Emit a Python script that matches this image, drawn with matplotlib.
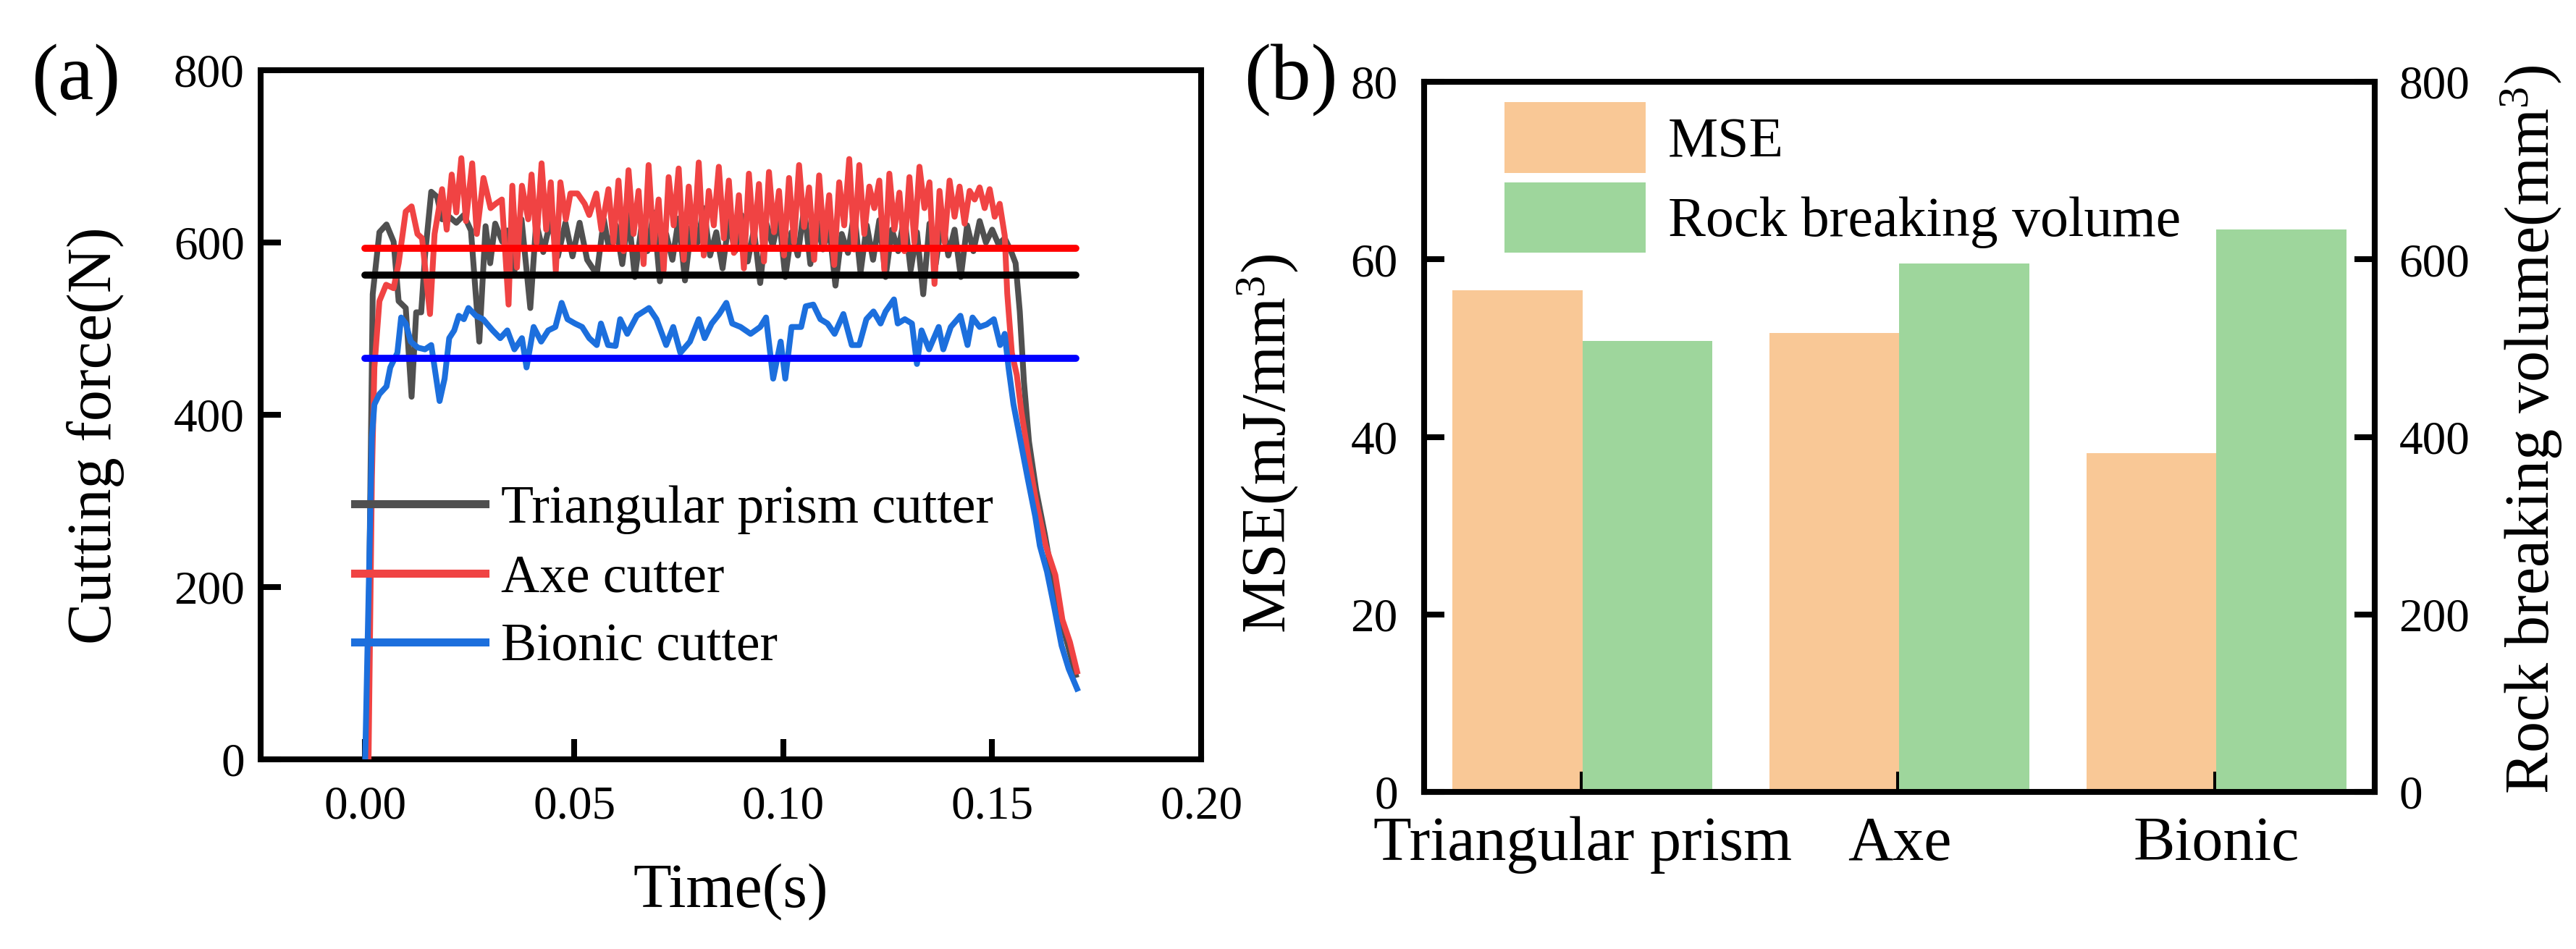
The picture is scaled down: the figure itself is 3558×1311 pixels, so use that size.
import matplotlib
matplotlib.use('Agg')
import matplotlib.pyplot as plt

plt.rcParams['font.family'] = ['Liberation Serif', 'DejaVu Serif']
plt.rcParams['mathtext.fontset'] = 'custom'
plt.rcParams['mathtext.rm'] = 'Liberation Serif'
plt.rcParams['mathtext.default'] = 'regular'

# ---- (a) cutting force curves ----
tri_t = [0.0005, 0.0012, 0.0018, 0.0034, 0.0051, 0.0068, 0.0080, 0.0097, 0.0111, 0.0122,
         0.0134, 0.0143, 0.0158, 0.0172, 0.0184, 0.0201, 0.0218, 0.0236, 0.0253, 0.0273,
         0.0288, 0.0299, 0.0311, 0.0328, 0.0340, 0.0357, 0.0374, 0.0395, 0.0409, 0.0426,
         0.0444, 0.0461, 0.0479, 0.0496, 0.0513, 0.0531, 0.0554, 0.0571, 0.0583,
         0.0600, 0.0615, 0.0630, 0.0645, 0.0660, 0.0675, 0.0690, 0.0705, 0.0720, 0.0735,
         0.0750, 0.0765, 0.0780, 0.0795, 0.0810, 0.0825, 0.0840, 0.0855, 0.0870, 0.0885,
         0.0900, 0.0915, 0.0930, 0.0945, 0.0960, 0.0975, 0.0990, 0.1005, 0.1020, 0.1035,
         0.1050, 0.1065, 0.1080, 0.1095, 0.1110, 0.1125, 0.1140, 0.1155, 0.1170, 0.1185,
         0.1200, 0.1215, 0.1230, 0.1245, 0.1260, 0.1275, 0.1290, 0.1305, 0.1320, 0.1335,
         0.1350, 0.1365, 0.1380, 0.1395, 0.1410, 0.1425, 0.1440, 0.1455, 0.1470, 0.1485,
         0.1500, 0.1515, 0.1530, 0.1545, 0.1556, 0.1566, 0.1576, 0.1588, 0.1605, 0.1626,
         0.1649, 0.1672, 0.1700]
tri_f = [0, 300, 540, 612, 621, 601, 532, 524, 421, 519,
         519, 584, 659, 653, 627, 630, 623, 632, 614, 485,
         619, 576, 622, 601, 614, 567, 627, 524, 623, 589,
         627, 584, 623, 584, 623, 580, 563, 627, 593,
         620, 575, 632, 560, 615, 590, 635, 555, 610, 580,
         628, 556, 618, 600, 640, 585, 612, 570, 625, 590,
         632, 578, 615, 553, 622, 596, 630, 560, 612, 585,
         640, 575, 625, 592, 618, 550, 610, 588, 635, 565,
         620, 580, 626, 560, 615, 590, 630, 568, 612, 540,
         622, 575, 628, 585, 615, 560, 620, 590, 625, 600,
         615, 598, 605, 590, 576, 520, 438, 369, 313, 261,
         197, 149, 98]

axe_t = [0.0008, 0.0016, 0.0022, 0.0034, 0.0050, 0.0068, 0.0080, 0.0097, 0.0111, 0.0125,
         0.0136, 0.0155, 0.0166, 0.0184, 0.0195, 0.0207, 0.0218, 0.0230, 0.0241, 0.0256,
         0.0267, 0.0283, 0.0300, 0.0312, 0.0327, 0.0343, 0.0352, 0.0363, 0.0375, 0.0390,
         0.0398, 0.0410, 0.0422, 0.0433, 0.0444, 0.0456, 0.0467, 0.0480, 0.0491, 0.0508,
         0.0525, 0.0536, 0.0553, 0.0565, 0.0582,
         0.0594, 0.0606, 0.0618, 0.0630, 0.0642, 0.0654, 0.0666, 0.0678, 0.0690, 0.0702,
         0.0714, 0.0726, 0.0738, 0.0750, 0.0762, 0.0774, 0.0786, 0.0798, 0.0810, 0.0822,
         0.0834, 0.0846, 0.0858, 0.0870, 0.0882, 0.0894, 0.0906, 0.0918, 0.0930, 0.0942,
         0.0954, 0.0966, 0.0978, 0.0990, 0.1002, 0.1014, 0.1026, 0.1038, 0.1050, 0.1062,
         0.1074, 0.1086, 0.1098, 0.1110, 0.1122, 0.1134, 0.1146, 0.1158, 0.1170, 0.1182,
         0.1194, 0.1206, 0.1218, 0.1230, 0.1242, 0.1254, 0.1266, 0.1278, 0.1290, 0.1302,
         0.1314, 0.1326, 0.1338, 0.1350, 0.1362, 0.1374, 0.1386, 0.1398, 0.1410, 0.1422,
         0.1434, 0.1446, 0.1458, 0.1470, 0.1482, 0.1494, 0.1506, 0.1518,
         0.1530, 0.1536, 0.1547, 0.1559, 0.1570, 0.1588, 0.1605, 0.1628, 0.1651, 0.1668,
         0.1686, 0.1703]
axe_f = [0, 326, 455, 532, 551, 547, 576, 636, 642, 610,
         605, 517, 610, 662, 615, 679, 635, 698, 625, 692,
         610, 675, 640, 645, 650, 528, 666, 571, 666, 627,
         679, 600, 692, 615, 670, 567, 670, 627, 657, 657,
         645, 632, 657, 615, 662,
         600, 672, 590, 684, 610, 660, 575, 690, 595, 650,
         568, 676, 620, 686, 580, 665, 598, 693, 585, 660,
         620, 688, 605, 672, 588, 655, 570, 680, 600, 668,
         578, 682, 612, 660, 585, 675, 600, 690, 618, 664,
         580, 678, 598, 655, 574, 670, 620, 697, 592, 690,
         610, 665, 640, 672, 568, 680, 615, 658, 590, 676,
         600, 688, 640, 670, 552, 660, 600, 672, 630, 665,
         622, 660, 650, 664, 640, 662, 630, 645,
         608, 541, 472, 446, 403, 347, 300, 248, 214, 162,
         136, 102]

bio_t = [0.0000, 0.0016, 0.0022, 0.0034, 0.0051, 0.0060, 0.0068, 0.0077, 0.0086, 0.0097,
         0.0109, 0.0126, 0.0143, 0.0158, 0.0178, 0.0190, 0.0201, 0.0213, 0.0224, 0.0236,
         0.0247, 0.0265, 0.0282, 0.0305, 0.0323, 0.0340, 0.0357, 0.0375, 0.0386, 0.0403,
         0.0421, 0.0438, 0.0455, 0.0470, 0.0484, 0.0502, 0.0519, 0.0536, 0.0554, 0.0564,
         0.0581, 0.0599, 0.0610, 0.0627, 0.0650, 0.0679, 0.0697, 0.0720, 0.0737, 0.0754,
         0.0777, 0.0798, 0.0812, 0.0829, 0.0847, 0.0864, 0.0878, 0.0898, 0.0922, 0.0945,
         0.0959, 0.0976, 0.0994, 0.1005, 0.1020, 0.1043, 0.1054, 0.1072, 0.1089, 0.1106,
         0.1123, 0.1144, 0.1164, 0.1182, 0.1199, 0.1216, 0.1233, 0.1245, 0.1265, 0.1274,
         0.1291, 0.1308, 0.1320, 0.1331, 0.1349, 0.1372, 0.1383, 0.1401, 0.1424, 0.1441,
         0.1453, 0.1470, 0.1487, 0.1504, 0.1519, 0.1530, 0.1539, 0.1551, 0.1568, 0.1585,
         0.1603, 0.1614, 0.1631, 0.1649, 0.1666, 0.1683, 0.1703]
bio_f = [0, 374, 412, 424, 433, 455, 463, 472, 513, 506,
         485, 478, 476, 481, 416, 442, 489, 498, 515, 511,
         524, 515, 511, 498, 489, 498, 476, 489, 455, 502,
         485, 498, 502, 530, 511, 506, 502, 489, 481, 506,
         481, 480, 511, 494, 515, 524, 511, 481, 502, 472,
         485, 511, 489, 506, 517, 530, 506, 502, 494, 502,
         513, 442, 485, 442, 502, 502, 526, 528, 511, 506,
         494, 517, 481, 481, 511, 520, 506, 520, 534, 506,
         511, 506, 459, 498, 476, 502, 476, 502, 515, 481,
         513, 502, 505, 511, 481, 494, 455, 412, 369, 326,
         282, 248, 218, 175, 132, 105, 82]

mean_t = [0.0, 0.17]
mean_axe = 593
mean_tri = 562
mean_bio = 466

# ---- (b) MSE and rock breaking volume ----
cutters = ['Triangular prism', 'Axe', 'Bionic']
mse = [56.5, 51.7, 38.2]
volume = [508, 595, 634]

fig = plt.figure(figsize=(35.58, 13.11), dpi=100)
lw_sp = 5.8
tick_fs = 47
label_fs = 62

ax1 = fig.add_axes([0.1012, 0.1999, 0.3651, 0.726])
ax1.plot(tri_t, tri_f, color='#505050', lw=5.8, label='Triangular prism cutter', zorder=2)
ax1.plot(axe_t, axe_f, color='#F04343', lw=5.8, label='Axe cutter', zorder=3)
ax1.plot(bio_t, bio_f, color='#1C6FDD', lw=5.8, label='Bionic cutter', zorder=4)
ax1.plot(mean_t, [mean_axe] * 2, color='#FF0000', lw=7, solid_capstyle='round', zorder=5)
ax1.plot(mean_t, [mean_tri] * 2, color='#000000', lw=7, solid_capstyle='round', zorder=5)
ax1.plot(mean_t, [mean_bio] * 2, color='#0000FF', lw=7, solid_capstyle='round', zorder=5)
ax1.set_xlim(-0.025, 0.2)
ax1.set_ylim(0, 800)
ax1.set_xticks([0, 0.05, 0.10, 0.15, 0.20])
ax1.set_xticklabels(['0.00', '0.05', '0.10', '0.15', '0.20'])
ax1.set_yticks([0, 200, 400, 600, 800])
ax1.tick_params(direction='in', length=20, width=lw_sp, labelsize=tick_fs)
ax1.tick_params(axis='x', pad=26)
ax1.tick_params(axis='y', pad=16)
for s in ax1.spines.values():
    s.set_linewidth(lw_sp)
ax1.set_xlabel('Time(s)', fontsize=label_fs)
ax1.set_ylabel('Cutting force(N)', fontsize=label_fs)
ax1.xaxis.set_label_coords(0.5, -0.15)
ax1.yaxis.set_label_coords(-0.145, 0.47)
leg1 = ax1.legend(loc='center left', bbox_to_anchor=(0.10, 0.262), frameon=False,
                  fontsize=53, handlelength=2.45, handletextpad=0.3, labelspacing=0.38,
                  borderpad=0, borderaxespad=0)
for h in leg1.get_lines():
    h.set_linewidth(8)
fig.text(0.012, 0.915, '(a)', fontsize=80, va='center')

ax2 = fig.add_axes([0.5528, 0.1655, 0.3691, 0.7483])
ax3 = ax2.twinx()
x = range(len(cutters))
bw = 0.41
b1 = ax2.bar(x, mse, width=-bw, align='edge', color='#F9C896', label='MSE')
b2 = ax3.bar(x, volume, width=bw, align='edge', color='#9ED69C', label='Rock breaking volume')
ax2.set_xlim(-0.5, 2.5)
ax2.set_ylim(0, 80)
ax3.set_ylim(0, 800)
ax2.set_xticks(list(x))
ax2.set_xticklabels(cutters, fontsize=label_fs)
ax2.set_yticks([0, 20, 40, 60, 80])
ax3.set_yticks([0, 200, 400, 600, 800])
ax2.tick_params(direction='in', length=20, width=lw_sp, labelsize=tick_fs)
ax2.tick_params(axis='x', pad=24, labelsize=label_fs)
ax2.tick_params(axis='y', pad=26)
ax3.tick_params(direction='in', length=20, width=lw_sp, labelsize=tick_fs, pad=24)
for s in list(ax2.spines.values()) + list(ax3.spines.values()):
    s.set_linewidth(lw_sp)
ax2.set_ylabel('MSE(mJ/mm$^3$)', fontsize=label_fs)
ax3.set_ylabel('Rock breaking volume(mm$^3$)', fontsize=label_fs)
ax2.yaxis.set_label_coords(-0.13, 0.49)
ax3.yaxis.set_label_coords(1.13, 0.51)
ax3.legend([b1, b2], ['MSE', 'Rock breaking volume'], loc='center left',
           bbox_to_anchor=(0.085, 0.865), frameon=False, fontsize=56,
           handlelength=2.5, handleheight=1.55, handletextpad=0.4, labelspacing=0.17,
           borderpad=0, borderaxespad=0)
fig.text(0.483, 0.915, '(b)', fontsize=80, va='center')

fig.savefig('out.png', dpi=100)
